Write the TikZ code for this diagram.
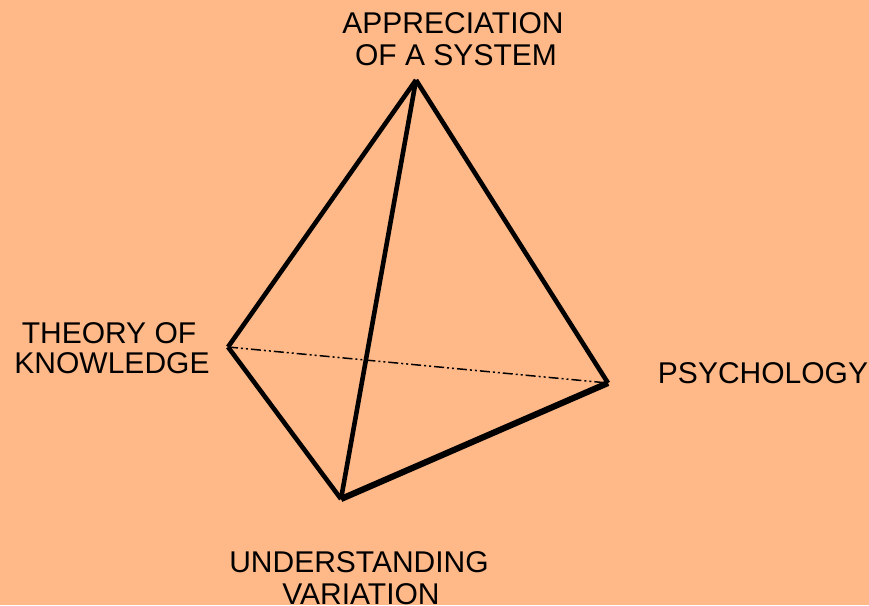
\documentclass[tikz,border=0pt]{standalone}
\usepackage{fontspec}
\setmainfont{Liberation Sans}
\definecolor{peach}{RGB}{255,185,137}
\begin{document}
\begin{tikzpicture}[x=1pt,y=-1pt,
  lbl/.style={anchor=base,inner sep=0pt,font=\fontsize{30}{32}\selectfont},
  edge/.style={line width=4.6pt},
  thickedge/.style={line width=6.2pt},
  hidden/.style={line width=1.5pt,dash pattern=on 10pt off 3pt on 2pt off 3pt on 2pt off 3pt}]
\fill[peach] (0,0) rectangle (869,605);
\useasboundingbox (0,0) rectangle (869,605);
\coordinate (A) at (416,80);
\coordinate (T) at (228,347);
\coordinate (P) at (608,383);
\coordinate (U) at (341,499);
\draw[hidden] (T) -- (P);
\draw[edge] (A) -- (T);
\draw[edge] (A) -- (P);
\draw[edge] (A) -- (U);
\draw[edge] (T) -- (U);
\draw[thickedge] (U) -- (P);
\node[lbl] (a1) at (453,33) {APPRECIATION};
\node[lbl] (a2) at (456,65) {OF A SYSTEM};
\node[lbl] (t1) at (109,343) {THEORY OF};
\node[lbl] (t2) at (112,373) {KNOWLEDGE};
\node[lbl] (p1) at (763,383) {PSYCHOLOGY};
\node[lbl] (u1) at (359,572) {UNDERSTANDING};
\node[lbl] (u2) at (361,604) {VARIATION};
\end{tikzpicture}
\end{document}
